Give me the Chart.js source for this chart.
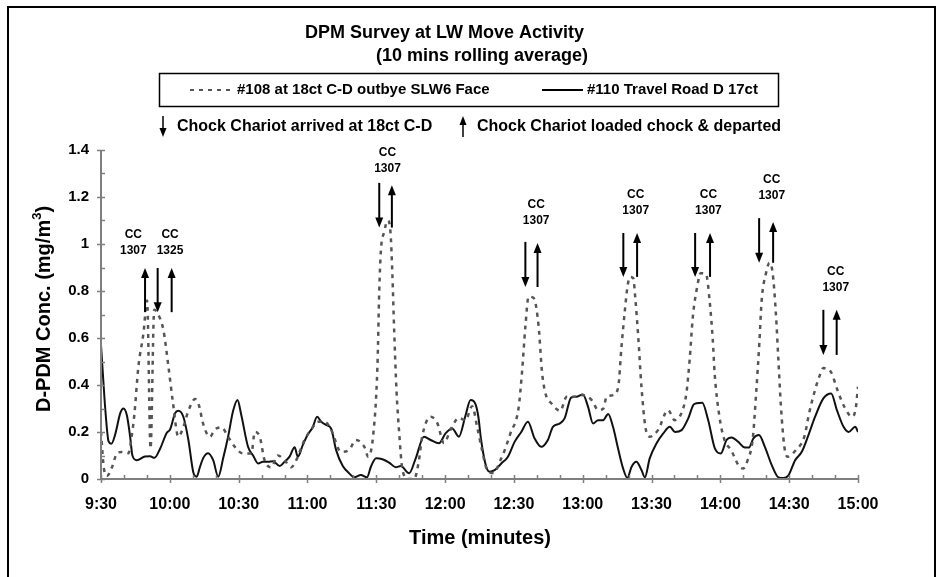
<!DOCTYPE html>
<html><head><meta charset="utf-8">
<script src="https://cdn.jsdelivr.net/npm/chart.js@4.4.1/dist/chart.umd.min.js"></script>
<style>html,body{margin:0;padding:0;background:#fff;}</style>
</head><body>
<canvas id="c" width="940" height="577"></canvas>
<script>
// ---- DATA (time = minutes after 9:30) ----
const xTickLabels = ["9:30","10:00","10:30","11:00","11:30","12:00","12:30","13:00","13:30","14:00","14:30","15:00"];
const yTickLabels = ["0","0.2","0.4","0.6","0.8","1","1.2","1.4"];

const series108Name = "#108 at 18ct C-D outbye SLW6 Face";
const t108 = [0,1.2,2.6,4.8,7,9.1,12,13.2,14.5,16.3,18.5,20.1,21.6,23.2,24.3,27.2,29.4,31.3,33.7,35.5,38.1,41,43.1,44.1,47.5,49.6,52.5,55.4,58.3,61.9,65.6,67,69.2,71.3,74.2,77.1,80,82.9,85.1,88.7,91.6,94.5,97.4,100.3,104.6,108.2,111.1,114.8,116.5,118.8,120.5,121.3,122,123.4,125,126.2,127,127.8,128.8,130,131.4,134,136.5,138.6,140,143.7,146.6,149.5,152.4,156,158.9,161.8,164,166.1,168.3,171.2,174.1,176,178.5,182,183.5,185,186.4,188.6,190.8,192.2,193.7,196.5,200.2,203,206.5,209.6,213.9,216.8,219,220.4,223.3,225.5,226.9,228.4,229.5,230.6,232,233,234.2,235.6,237.3,239.2,242.8,247.2,250.1,253,255.2,256.6,258,259.9,261.4,263.8,265.3,266.7,267.5,269.6,271.8,274.7,278.3,280,281.9,284.1,285.6,287,288,289.9,291.4,292.8,294.2,295.3,296.4,297.9,299.3,302.9,306.6,308.7,310.9,313.1,314.9,318.1,321,323.9,327.5,329,330];
const v108 = [0.2,0.05,0.013,0.05,0.11,0.115,0.11,0.17,0.27,0.478,0.62,0.76,0.13,0.72,0.71,0.634,0.478,0.33,0.18,0.21,0.29,0.34,0.3,0.25,0.18,0.21,0.22,0.18,0.137,0.109,0.109,0.2,0.18,0.08,0.05,0.1,0.08,0.05,0.08,0.166,0.21,0.244,0.244,0.21,0.116,0.124,0.166,0.137,0.095,0.2,0.478,0.8,0.97,1.05,1.1,1.05,0.876,0.634,0.38,0.195,0.04,0.0,0.0,0.08,0.18,0.265,0.238,0.153,0.21,0.26,0.25,0.31,0.22,0.123,0.04,0.025,0.08,0.123,0.195,0.3,0.45,0.648,0.776,0.77,0.648,0.46,0.366,0.32,0.29,0.35,0.35,0.357,0.336,0.293,0.3,0.35,0.357,0.393,0.563,0.72,0.818,0.86,0.855,0.76,0.605,0.393,0.222,0.18,0.208,0.293,0.25,0.28,0.366,0.506,0.69,0.818,0.876,0.87,0.76,0.59,0.45,0.265,0.166,0.123,0.052,0.045,0.08,0.17,0.366,0.58,0.76,0.876,0.92,0.876,0.705,0.506,0.31,0.137,0.095,0.123,0.18,0.28,0.366,0.435,0.472,0.457,0.38,0.31,0.265,0.3,0.393];

const series110Name = "#110 Travel Road D 17ct";
const t110 = [0,1,2,3.3,4.5,6.2,8.4,9.8,11.3,12.7,13.7,15.6,19.2,21.4,23.3,25.8,28.7,30.1,32.3,33.7,35.9,38.1,40.2,41.7,43.1,44.6,46.7,48.9,51.1,53.3,55.4,57.6,59.5,61.2,64.1,66.3,68.5,70.6,72.8,75,77.9,80,82.2,84.4,85.8,88,90.2,92.3,94.2,96,98.1,100.3,102.5,105.4,108.2,110.4,113.3,115.9,117.7,119.9,122.7,125.6,128.5,130.7,134.3,137.2,140.8,143.7,147.3,150.2,153.1,156,158.9,161.1,163.2,164.5,165.7,167.9,169.4,171.6,174.5,177.4,180.3,183.2,186.1,189,191.9,194.8,197,199.9,202.1,205,207.2,210.1,212.3,214.5,216.7,218.9,221.1,223.2,225.4,227.6,229.5,231.2,233.4,235.6,237.1,239.2,242.2,245.1,248,250.2,253.1,256,258.2,259.6,262.1,264.7,267.6,270.2,272.7,274.9,277.8,280.7,282.5,284.4,286.8,289.4,292.4,295.3,297.5,299.6,302.6,305.5,308.4,311.3,314.9,318.3,320.8,323.7,325.9,328.8,330];
const v110 = [0.57,0.42,0.28,0.16,0.15,0.19,0.28,0.3,0.27,0.18,0.1,0.08,0.096,0.097,0.09,0.13,0.197,0.21,0.28,0.29,0.265,0.166,0.03,0.01,0.05,0.09,0.11,0.08,0.01,0.09,0.18,0.29,0.336,0.27,0.137,0.1,0.066,0.073,0.073,0.076,0.055,0.073,0.095,0.135,0.095,0.145,0.19,0.22,0.265,0.244,0.23,0.215,0.123,0.055,0.024,0.007,0.017,0.007,0.053,0.088,0.084,0.07,0.05,0.055,0.024,0.088,0.18,0.166,0.152,0.194,0.215,0.18,0.27,0.336,0.32,0.265,0.166,0.053,0.031,0.038,0.066,0.095,0.158,0.2,0.244,0.173,0.137,0.166,0.222,0.236,0.258,0.347,0.35,0.36,0.308,0.236,0.25,0.25,0.277,0.222,0.13,0.045,0.004,0.05,0.073,0.038,0.007,0.088,0.152,0.194,0.222,0.2,0.208,0.258,0.315,0.322,0.325,0.25,0.13,0.109,0.166,0.177,0.158,0.134,0.134,0.173,0.187,0.137,0.059,0.007,0.004,0.014,0.08,0.116,0.187,0.265,0.343,0.364,0.293,0.222,0.2,0.222,0.2];

// Chock Chariot events: arrows (down = arrived, up = departed)
const arrowTimes  = [19.2, 24.7, 30.8, 121.3, 126.8, 185, 190.3, 227.7, 233.7, 259, 265.5, 286.9, 293, 314.9, 320.7];
const arrowDirs   = ["up","down","up","down","up","down","up","down","up","down","up","down","up","down","up"];
const arrowHigh   = [0.898,0.898,0.898,1.26,1.25,1.009,1.004,1.047,1.047,1.047,1.047,1.11,1.094,0.72,0.72];
const arrowLow    = [0.71,0.71,0.71,1.07,1.07,0.817,0.817,0.86,0.86,0.86,0.86,0.92,0.92,0.528,0.528];
// CC labels
const labelTimes  = [14.1, 30.1, 124.9, 189.7, 233.1, 264.8, 292.4, 320.3];
const labelValues = [1.038, 1.038, 1.387, 1.166, 1.209, 1.209, 1.272, 0.881];
const labelChariots = ["1307","1325","1307","1307","1307","1307","1307","1307"];

// ---- drawing ----
const FONT = '"Liberation Sans", Arial, Helvetica, sans-serif';
const AXIS = '#7f7f7f';

function drawArrow(ctx, x, yTail, yHead, lw, hw, hl) {
  const dir = yHead > yTail ? 1 : -1;
  ctx.save();
  ctx.strokeStyle = '#000'; ctx.fillStyle = '#000'; ctx.lineWidth = lw;
  ctx.beginPath(); ctx.moveTo(x, yTail); ctx.lineTo(x, yHead - dir * hl * 0.8); ctx.stroke();
  ctx.beginPath();
  ctx.moveTo(x, yHead);
  ctx.lineTo(x - hw / 2, yHead - dir * hl);
  ctx.lineTo(x + hw / 2, yHead - dir * hl);
  ctx.closePath(); ctx.fill();
  ctx.restore();
}

const decor = {
  id: 'decor',
  afterDraw(chart) {
    const ctx = chart.ctx;
    const xs = chart.scales.x, ys = chart.scales.y;
    const ca = chart.chartArea;
    ctx.save();
    // outer frame
    ctx.strokeStyle = '#000'; ctx.lineWidth = 2;
    ctx.strokeRect(8, 7, 927, 620);

    // axes lines and ticks
    ctx.strokeStyle = AXIS; ctx.lineWidth = 2;
    ctx.beginPath();
    ctx.moveTo(ca.left, ca.top); ctx.lineTo(ca.left, ca.bottom); ctx.lineTo(ca.right, ca.bottom);
    ctx.stroke();
    ctx.lineWidth = 1.5;
    for (let m = 0; m <= 330; m += 10) {
      const px = Math.round(xs.getPixelForValue(m)) + 0.5;
      ctx.beginPath();
      if (m % 30 === 0) { ctx.moveTo(px, ca.bottom - 4); ctx.lineTo(px, ca.bottom + 4); }
      else { ctx.moveTo(px, ca.bottom - 4); ctx.lineTo(px, ca.bottom); }
      ctx.stroke();
    }
    for (let k = 0; k <= 14; k++) {
      const py = Math.round(ys.getPixelForValue(k / 10)) + 0.5;
      ctx.beginPath();
      if (k % 2 === 0) { ctx.moveTo(ca.left - 4, py); ctx.lineTo(ca.left + 4, py); }
      else { ctx.moveTo(ca.left, py); ctx.lineTo(ca.left + 4, py); }
      ctx.stroke();
    }

    // titles
    ctx.fillStyle = '#000';
    ctx.textBaseline = 'middle';
    ctx.textAlign = 'center';
    ctx.font = 'bold 18px ' + FONT;
    ctx.fillText('DPM Survey at LW Move Activity', 444.5, 33);
    ctx.fillText('(10 mins rolling average)', 482, 56);

    // legend box
    ctx.strokeStyle = '#000'; ctx.lineWidth = 1.5;
    ctx.strokeRect(159.5, 73.5, 619, 33);
    ctx.strokeStyle = '#555'; ctx.lineWidth = 2;
    ctx.setLineDash([4, 5]);
    ctx.beginPath(); ctx.moveTo(190, 90); ctx.lineTo(233, 90); ctx.stroke();
    ctx.setLineDash([]);
    ctx.strokeStyle = '#000';
    ctx.beginPath(); ctx.moveTo(542, 90); ctx.lineTo(583, 90); ctx.stroke();
    ctx.textAlign = 'left';
    ctx.font = 'bold 15px ' + FONT;
    ctx.fillText(series108Name, 237, 90);
    ctx.fillText(series110Name, 587, 90);

    // arrow legend
    drawArrow(ctx, 163, 116, 137, 1.5, 7, 9);
    drawArrow(ctx, 463, 137, 116, 1.5, 7, 9);
    ctx.font = 'bold 16px ' + FONT;
    ctx.fillText('Chock Chariot arrived at 18ct C-D', 177, 127);
    ctx.fillText('Chock Chariot loaded chock & departed', 477, 127);

    // event arrows
    for (let i = 0; i < arrowTimes.length; i++) {
      const px = xs.getPixelForValue(arrowTimes[i]);
      const yh = ys.getPixelForValue(arrowHigh[i]);
      const yl = ys.getPixelForValue(arrowLow[i]);
      if (arrowDirs[i] === 'down') drawArrow(ctx, px, yh, yl, 2, 8, 10);
      else drawArrow(ctx, px, yl, yh, 2, 8, 10);
    }
    // CC labels
    ctx.textAlign = 'center';
    ctx.font = 'bold 12px ' + FONT;
    for (let i = 0; i < labelTimes.length; i++) {
      const px = xs.getPixelForValue(labelTimes[i]);
      const py = ys.getPixelForValue(labelValues[i]);
      ctx.fillText('CC', px, py);
      ctx.fillText(labelChariots[i], px, py + 16);
    }

    // x-axis title
    ctx.font = 'bold 20px ' + FONT;
    ctx.fillText('Time (minutes)', 480, 538);

    // y-axis title with superscript
    ctx.save();
    ctx.translate(44, 309);
    ctx.rotate(-Math.PI / 2);
    const main = 'D-PDM Conc. (mg/m';
    ctx.font = 'bold 20px ' + FONT;
    const w1 = ctx.measureText(main).width;
    const w3 = ctx.measureText(')').width;
    ctx.font = 'bold 13px ' + FONT;
    const w2 = ctx.measureText('3').width;
    let x0 = -(w1 + w2 + w3) / 2;
    ctx.textAlign = 'left';
    ctx.font = 'bold 20px ' + FONT;
    ctx.fillText(main, x0, 0);
    ctx.font = 'bold 13px ' + FONT;
    ctx.fillText('3', x0 + w1, -7);
    ctx.font = 'bold 20px ' + FONT;
    ctx.fillText(')', x0 + w1 + w2, 0);
    ctx.restore();

    ctx.restore();
  }
};

const mk = (ts, vs) => ts.map((t, i) => ({x: t, y: vs[i]}));

new Chart(document.getElementById('c'), {
  type: 'line',
  data: {
    datasets: [
      { label: series108Name, data: mk(t108, v108), borderColor: '#555', borderWidth: 2.5,
        borderDash: [4, 5], pointRadius: 0, cubicInterpolationMode: 'monotone', fill: false },
      { label: series110Name, data: mk(t110, v110), borderColor: '#111', borderWidth: 2,
        pointRadius: 0, cubicInterpolationMode: 'monotone', fill: false }
    ]
  },
  options: {
    responsive: false,
    animation: false,
    devicePixelRatio: 1,
    layout: { padding: { top: 150, right: 82, bottom: 58, left: 0 } },
    plugins: { legend: { display: false }, title: { display: false }, tooltip: { enabled: false } },
    scales: {
      x: {
        type: 'linear', min: 0, max: 330,
        grid: { display: false, drawTicks: false }, border: { display: false },
        ticks: { stepSize: 30, autoSkip: false, maxRotation: 0, padding: 16, color: '#000',
          font: { family: FONT, size: 16, weight: 'bold' },
          callback: (v) => xTickLabels[Math.round(v / 30)] },
        afterFit: (s) => { s.height = 40; }
      },
      y: {
        min: 0, max: 1.4,
        grid: { display: false, drawTicks: false }, border: { display: false },
        ticks: { stepSize: 0.2, padding: 12, color: '#000',
          font: { family: FONT, size: 15, weight: 'bold' },
          callback: (v) => yTickLabels[Math.round(v / 0.2)] },
        afterFit: (s) => { s.width = 101; }
      }
    }
  },
  plugins: [decor]
});
</script>
</body></html>
